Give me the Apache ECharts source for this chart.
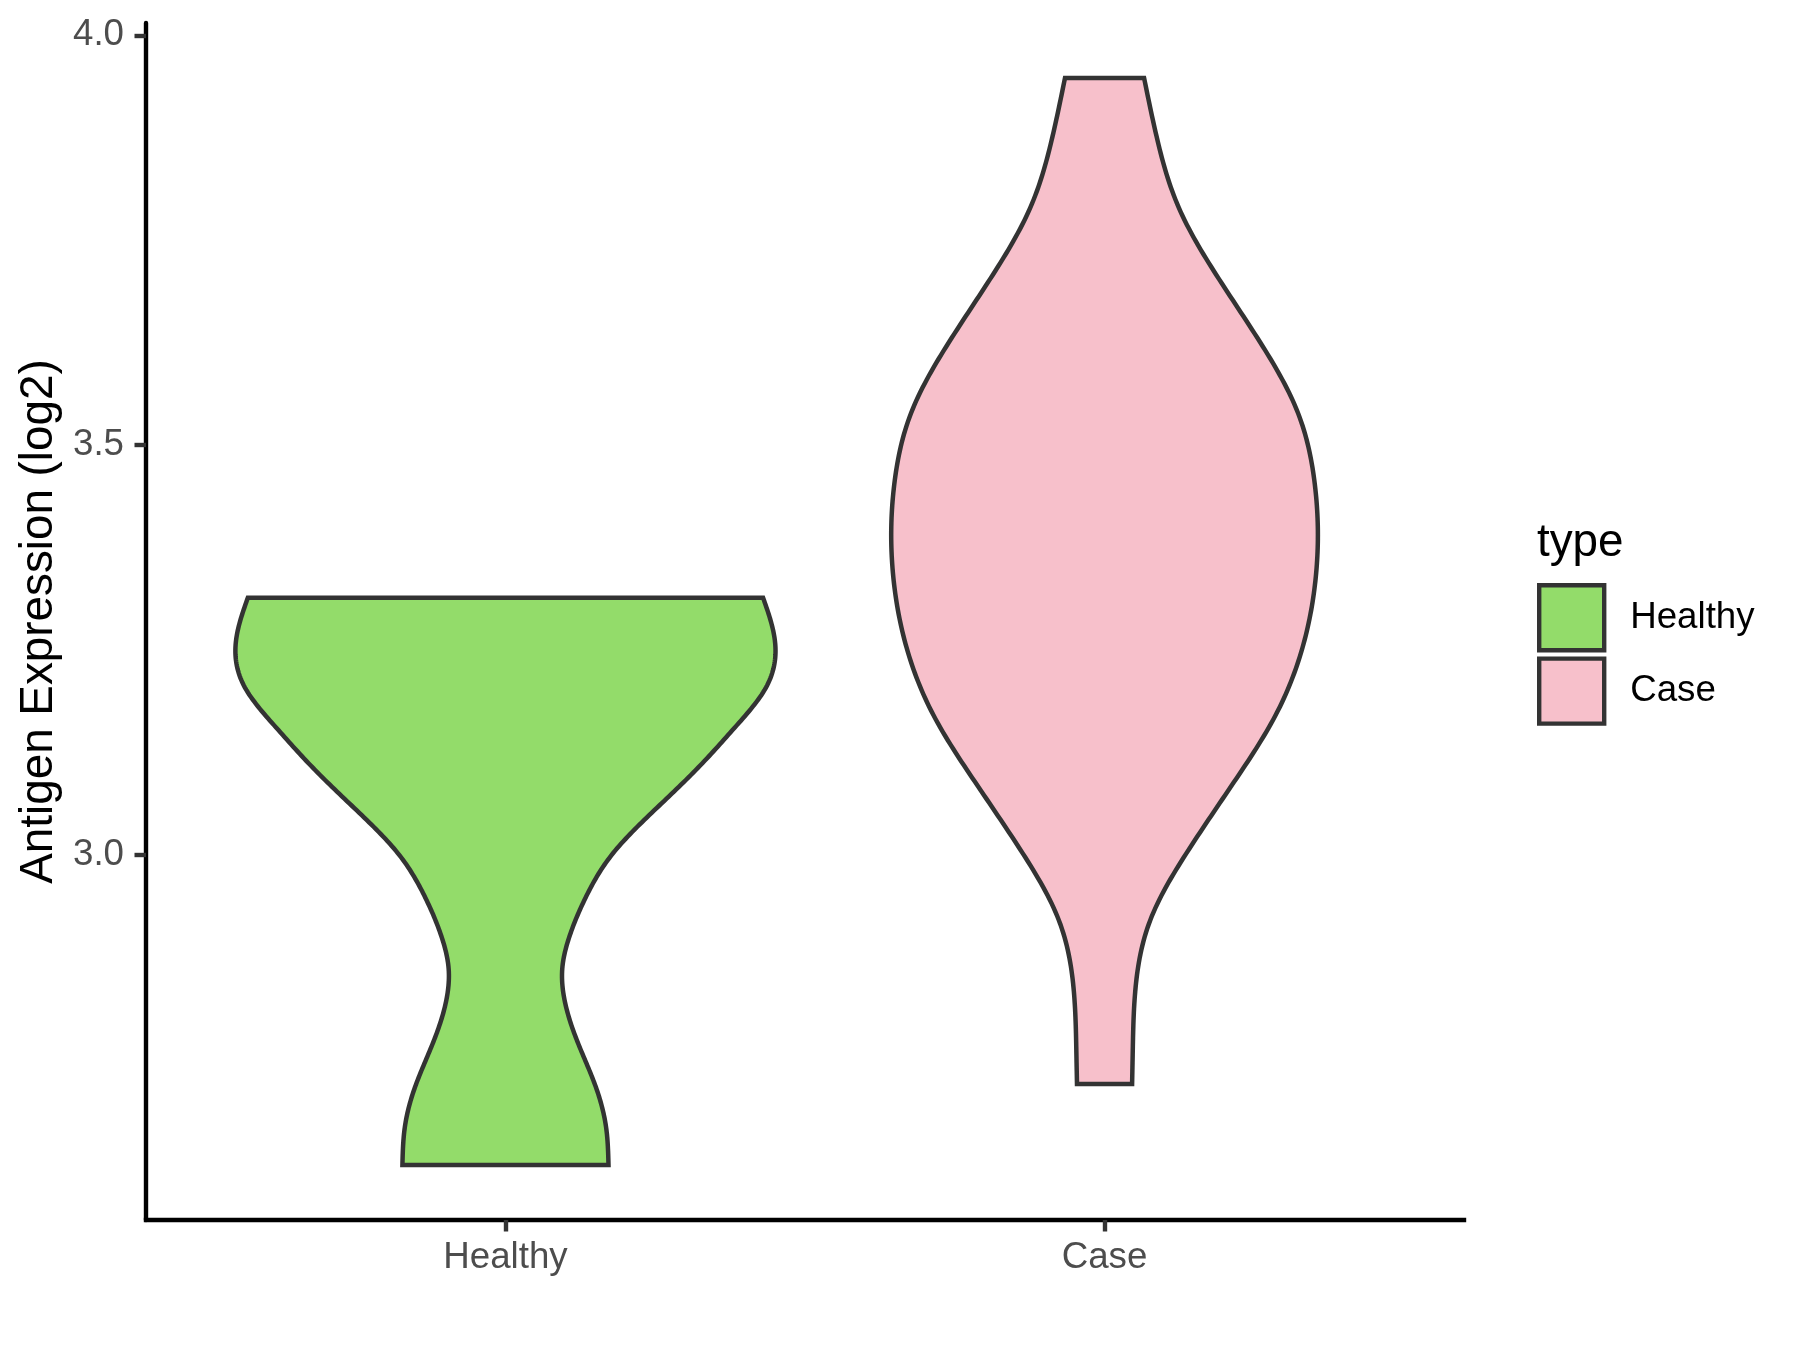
<!DOCTYPE html>
<html>
<head>
<meta charset="utf-8">
<script src="https://cdn.jsdelivr.net/npm/echarts@6/dist/echarts.min.js"></script>
<style>html,body{margin:0;padding:0;background:#fff}#chart{width:1800px;height:1350px}</style>
</head>
<body>
<div id="chart"></div>
<script>
// ---- data ----
const categories = ['Healthy', 'Case'];
const yTicks = [3.0, 3.5, 4.0];
const legendTitle = 'type';
const yAxisTitle = 'Antigen Expression (log2)';
// violin outline: value (log2) and half-width (in category units)
const healthyValues     = [3.314, 3.260, 3.206, 3.155, 3.104, 3.053, 3.000, 2.950, 2.899, 2.863, 2.822, 2.771, 2.719, 2.668, 2.622];
const healthyHalfWidths = [0.430, 0.450, 0.436, 0.382, 0.318, 0.246, 0.177, 0.135, 0.106, 0.095, 0.099, 0.121, 0.150, 0.168, 0.172];
const caseValues     = [3.948, 3.870, 3.788, 3.705, 3.623, 3.541, 3.458, 3.400, 3.335, 3.252, 3.170, 3.088, 3.005, 2.922, 2.840, 2.758, 2.721];
const caseHalfWidths = [0.066, 0.089, 0.125, 0.189, 0.262, 0.322, 0.350, 0.356, 0.352, 0.330, 0.285, 0.215, 0.139, 0.077, 0.052, 0.047, 0.046];

const FONT = '"Liberation Sans", Arial, Helvetica, sans-serif';
const colors = { Healthy: '#93DC6A', Case: '#F7C0CB' };
const OUTLINE = '#333333';

// natural cubic spline of half-width as a function of value (render-time smoothing only)
function splineSampler(xs, ys) {
  const idx = xs.map((_, i) => i).sort((a, b) => xs[a] - xs[b]);
  const X = idx.map(i => xs[i]), Y = idx.map(i => ys[i]);
  const n = X.length;
  const h = [], alpha = [0];
  for (let i = 0; i < n - 1; i++) h.push(X[i + 1] - X[i]);
  for (let i = 1; i < n - 1; i++) alpha.push(3 / h[i] * (Y[i + 1] - Y[i]) - 3 / h[i - 1] * (Y[i] - Y[i - 1]));
  const l = [1], mu = [0], z = [0];
  for (let i = 1; i < n - 1; i++) {
    l[i] = 2 * (X[i + 1] - X[i - 1]) - h[i - 1] * mu[i - 1];
    mu[i] = h[i] / l[i];
    z[i] = (alpha[i] - h[i - 1] * z[i - 1]) / l[i];
  }
  const c = new Array(n).fill(0), b = new Array(n).fill(0), d = new Array(n).fill(0);
  for (let j = n - 2; j >= 0; j--) {
    c[j] = z[j] - mu[j] * c[j + 1];
    b[j] = (Y[j + 1] - Y[j]) / h[j] - h[j] * (c[j + 1] + 2 * c[j]) / 3;
    d[j] = (c[j + 1] - c[j]) / (3 * h[j]);
  }
  return function (x) {
    let j = 0;
    while (j < n - 2 && x > X[j + 1]) j++;
    const dx = x - X[j];
    return Y[j] + b[j] * dx + c[j] * dx * dx + d[j] * dx * dx * dx;
  };
}

function violinRenderer(values, halfWidths, center, color) {
  const f = splineSampler(values, halfWidths);
  const vMax = Math.max.apply(null, values), vMin = Math.min.apply(null, values);
  return function (params, api) {
    const N = 240;
    const right = [], left = [];
    for (let k = 0; k <= N; k++) {
      const v = vMax - (vMax - vMin) * k / N;
      const hw = f(v);
      right.push(api.coord([center + hw, v]));
      left.push(api.coord([center - hw, v]));
    }
    const pts = right.concat(left.reverse());
    return {
      type: 'polygon',
      shape: { points: pts },
      style: { fill: color, stroke: OUTLINE, lineWidth: 4.5, lineJoin: 'miter' }
    };
  };
}

const chart = echarts.init(document.getElementById('chart'), null, { renderer: 'canvas' });
chart.setOption({
  animation: false,
  backgroundColor: '#ffffff',
  grid: { left: 146, right: 336, top: 23, bottom: 130 },
  xAxis: {
    type: 'value', min: 0.4, max: 2.6,
    splitLine: { show: false },
    axisLine: { show: true, lineStyle: { color: '#000', width: 4.4, cap: 'square' } },
    axisTick: { show: true, customValues: [1, 2], length: 11.5, lineStyle: { color: '#333', width: 4.4 } },
    axisLabel: {
      customValues: [1, 2], margin: 19,
      formatter: v => categories[Math.round(v) - 1],
      fontSize: 36.7, color: '#4D4D4D', fontFamily: FONT
    }
  },
  yAxis: {
    type: 'value', min: 2.555, max: 4.015,
    name: yAxisTitle, nameLocation: 'middle', nameGap: 73,
    nameTextStyle: { fontSize: 45.8, color: '#000', fontFamily: FONT },
    splitLine: { show: false },
    axisLine: { show: true, lineStyle: { color: '#000', width: 4.4 } },
    axisTick: { show: true, customValues: yTicks, length: 11.5, lineStyle: { color: '#333', width: 4.4 } },
    axisLabel: {
      customValues: yTicks, margin: 22,
      formatter: v => v.toFixed(1),
      fontSize: 36.7, color: '#4D4D4D', fontFamily: FONT
    }
  },
  legend: {
    orient: 'vertical', left: 1537, top: 583, padding: 0,
    itemWidth: 65, itemHeight: 65, itemGap: 4, selectedMode: false, icon: 'rect',
    textStyle: { fontSize: 36.7, color: '#000', fontFamily: FONT, padding: [0, 0, 0, 21] },
    data: categories.map(c => ({ name: c, itemStyle: { color: colors[c], borderColor: OUTLINE, borderWidth: 4.4 } }))
  },
  graphic: [{
    type: 'text', left: 1537, top: 520,
    style: { text: legendTitle, fontSize: 45.8, fill: '#000', fontFamily: FONT }
  }],
  series: [
    {
      name: 'Healthy', type: 'custom', coordinateSystem: 'cartesian2d',
      itemStyle: { color: colors.Healthy, borderColor: OUTLINE, borderWidth: 4.4 },
      renderItem: violinRenderer(healthyValues, healthyHalfWidths, 1, colors.Healthy),
      data: [[1, healthyValues[0]]]
    },
    {
      name: 'Case', type: 'custom', coordinateSystem: 'cartesian2d',
      itemStyle: { color: colors.Case, borderColor: OUTLINE, borderWidth: 4.4 },
      renderItem: violinRenderer(caseValues, caseHalfWidths, 2, colors.Case),
      data: [[2, caseValues[0]]]
    }
  ]
});
</script>
</body>
</html>
